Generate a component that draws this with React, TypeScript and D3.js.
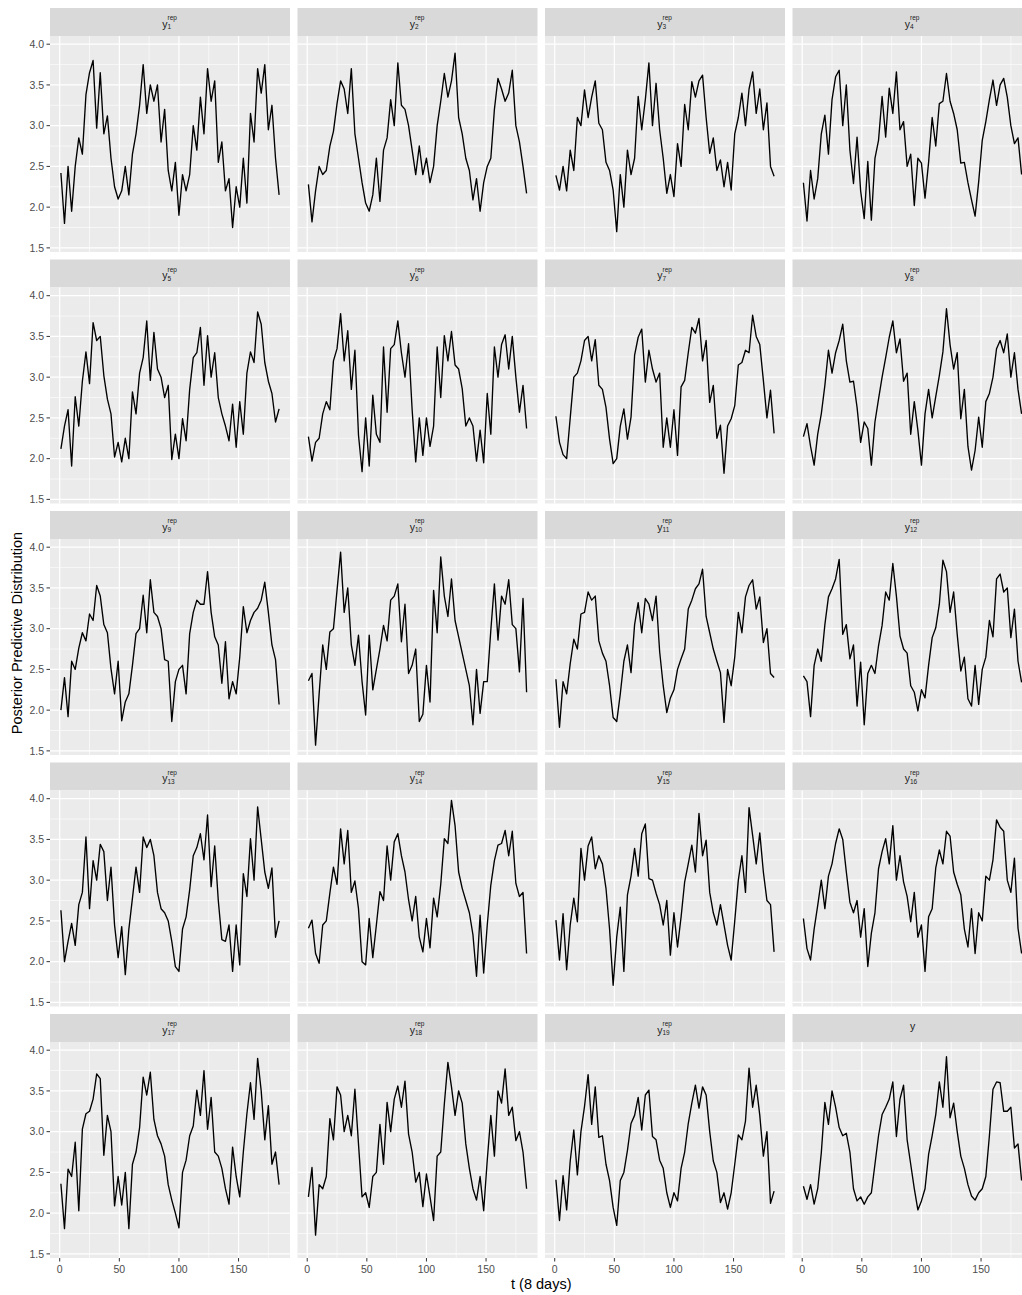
import React from 'react';
import * as d3 from 'd3';

const yrep1 = [2.42,1.8,2.5,1.95,2.5,2.85,2.65,3.38,3.65,3.8,2.97,3.65,2.9,3.12,2.6,2.25,2.1,2.2,2.5,2.15,2.65,2.9,3.25,3.75,3.15,3.5,3.3,3.5,2.8,3.2,2.45,2.2,2.55,1.9,2.4,2.2,2.4,3.0,2.7,3.35,2.9,3.7,3.3,3.55,2.55,2.8,2.2,2.35,1.75,2.25,2.0,2.6,2.05,3.15,2.8,3.7,3.4,3.75,2.95,3.25,2.6,2.15];
const yrep2 = [2.28,1.82,2.2,2.5,2.4,2.45,2.75,2.93,3.27,3.55,3.45,3.15,3.7,2.9,2.6,2.3,2.05,1.95,2.15,2.6,2.07,2.7,2.85,3.32,3.0,3.77,3.25,3.2,3.0,2.7,2.4,2.75,2.4,2.6,2.3,2.5,3.0,3.3,3.64,3.35,3.55,3.89,3.1,2.9,2.6,2.45,2.09,2.35,1.95,2.3,2.5,2.6,3.2,3.58,3.45,3.3,3.4,3.68,3.0,2.8,2.5,2.17];
const yrep3 = [2.39,2.21,2.5,2.2,2.7,2.45,3.1,3.0,3.44,3.1,3.35,3.55,3.03,2.95,2.55,2.45,2.21,1.7,2.4,2.0,2.7,2.4,2.6,3.36,2.95,3.32,3.77,3.0,3.52,2.95,2.6,2.17,2.4,2.13,2.78,2.5,3.26,2.95,3.54,3.35,3.55,3.62,3.1,2.66,2.85,2.45,2.58,2.25,2.55,2.21,2.9,3.1,3.4,3.0,3.45,3.66,3.15,3.45,2.95,3.28,2.5,2.38];
const yrep4 = [2.3,1.83,2.45,2.1,2.35,2.9,3.13,2.65,3.32,3.6,3.68,3.0,3.5,2.7,2.29,2.86,2.2,1.86,2.56,1.84,2.6,2.82,3.36,2.86,3.46,3.15,3.66,2.95,3.05,2.5,2.65,2.02,2.6,2.54,2.11,2.55,3.1,2.75,3.27,3.3,3.64,3.3,3.15,2.95,2.54,2.55,2.3,2.09,1.89,2.31,2.82,3.05,3.32,3.56,3.25,3.5,3.58,3.35,3.0,2.78,2.85,2.4];
const yrep5 = [2.12,2.4,2.6,1.91,2.76,2.4,2.95,3.31,2.92,3.67,3.45,3.5,3.02,2.73,2.55,2.02,2.2,1.96,2.25,2.0,2.82,2.55,3.05,3.24,3.69,2.96,3.55,3.1,3.0,2.75,2.9,1.99,2.3,2.0,2.49,2.22,2.85,3.24,3.3,3.61,2.9,3.51,3.0,3.3,2.75,2.55,2.4,2.22,2.67,2.14,2.7,2.3,3.05,3.31,3.18,3.8,3.65,3.18,2.95,2.8,2.45,2.61];
const yrep6 = [2.27,1.97,2.2,2.25,2.55,2.7,2.6,3.2,3.35,3.78,3.2,3.57,2.85,3.33,2.29,1.84,2.5,1.91,2.78,2.3,2.2,3.37,2.57,3.35,3.4,3.69,3.3,3.0,3.41,2.6,1.96,2.5,2.04,2.5,2.15,2.4,3.37,2.75,3.51,3.2,3.56,3.15,3.1,2.86,2.4,2.5,2.4,1.97,2.35,1.95,2.8,2.3,3.37,3.0,3.4,3.52,3.1,3.5,3.0,2.57,2.9,2.37];
const yrep7 = [2.52,2.2,2.05,2.0,2.5,3.0,3.05,3.2,3.45,3.5,3.2,3.46,2.9,2.85,2.63,2.24,1.94,2.0,2.4,2.61,2.24,2.51,3.27,3.49,3.59,2.94,3.33,3.1,2.94,3.05,2.14,2.5,2.14,2.6,2.04,2.88,2.96,3.3,3.61,3.54,3.72,3.2,3.45,2.69,2.9,2.25,2.41,1.82,2.4,2.49,2.65,3.15,3.18,3.33,3.3,3.76,3.5,3.4,2.96,2.5,2.84,2.31];
const yrep8 = [2.27,2.43,2.15,1.92,2.3,2.55,2.9,3.33,3.05,3.3,3.45,3.65,3.2,2.94,2.95,2.63,2.2,2.45,2.37,1.92,2.45,2.73,3.0,3.24,3.49,3.69,3.3,3.47,2.95,3.05,2.3,2.7,2.35,1.92,2.55,2.85,2.5,2.76,3.02,3.31,3.84,3.4,3.1,3.3,2.49,2.85,2.15,1.86,2.1,2.51,2.14,2.7,2.8,3.0,3.35,3.45,3.3,3.53,3.0,3.3,2.85,2.55];
const yrep9 = [2.0,2.4,1.92,2.6,2.5,2.76,2.95,2.85,3.18,3.1,3.53,3.4,3.05,2.95,2.51,2.2,2.6,1.87,2.1,2.2,2.55,2.94,3.0,3.41,2.95,3.6,3.2,3.15,3.0,2.62,2.6,1.86,2.35,2.5,2.55,2.2,2.94,3.2,3.35,3.3,3.3,3.7,3.2,2.9,2.8,2.33,2.84,2.14,2.35,2.2,2.65,3.27,2.95,3.1,3.2,3.25,3.35,3.57,3.2,2.8,2.62,2.07];
const yrep10 = [2.36,2.45,1.57,2.2,2.8,2.5,2.96,3.0,3.47,3.94,3.2,3.5,2.8,2.55,2.92,2.35,1.94,2.92,2.25,2.5,2.75,3.04,2.85,3.35,3.4,3.55,2.84,3.3,2.45,2.55,2.75,1.86,1.95,2.55,2.1,3.47,2.95,3.88,3.4,3.15,3.61,3.1,2.9,2.7,2.5,2.3,1.82,2.5,1.96,2.35,2.35,2.98,3.55,2.86,3.4,3.3,3.6,3.05,3.0,2.47,3.37,2.22];
const yrep11 = [2.38,1.79,2.35,2.2,2.57,2.87,2.75,3.18,3.2,3.45,3.35,3.4,2.85,2.7,2.6,2.3,1.91,1.86,2.2,2.6,2.8,2.46,3.05,3.32,2.95,3.37,3.3,3.1,3.4,2.72,2.3,1.97,2.15,2.25,2.5,2.63,2.75,3.24,3.35,3.49,3.55,3.73,3.15,2.95,2.75,2.6,2.46,1.85,2.5,2.3,2.65,3.2,2.95,3.39,3.53,3.6,3.24,3.39,2.83,3.0,2.45,2.4];
const yrep12 = [2.42,2.35,1.92,2.55,2.75,2.6,3.05,3.39,3.49,3.61,3.85,2.93,3.05,2.63,2.8,2.05,2.59,1.82,2.45,2.55,2.45,2.79,3.04,3.45,3.35,3.8,3.4,2.91,2.75,2.7,2.3,2.22,1.99,2.25,2.15,2.55,2.89,3.01,3.3,3.84,3.7,3.2,3.45,2.93,2.48,2.65,2.14,2.05,2.55,2.07,2.5,2.65,3.1,2.9,3.61,3.67,3.45,3.5,2.89,3.24,2.6,2.34];
const yrep13 = [2.63,2.0,2.25,2.47,2.2,2.7,2.85,3.53,2.65,3.24,3.0,3.44,3.35,2.75,3.16,2.45,2.05,2.43,1.84,2.4,2.78,3.16,2.85,3.53,3.4,3.5,3.3,2.85,2.65,2.6,2.5,2.25,1.94,1.88,2.4,2.55,2.88,3.3,3.4,3.57,3.25,3.8,2.92,3.42,2.75,2.27,2.25,2.45,1.88,2.45,1.96,3.08,2.8,3.51,3.0,3.9,3.5,3.1,2.9,3.15,2.3,2.5];
const yrep14 = [2.41,2.51,2.1,1.98,2.45,2.5,2.84,3.16,2.95,3.63,3.2,3.61,2.85,2.99,2.65,2.0,1.96,2.53,2.05,2.45,2.86,2.75,3.42,3.0,3.47,3.57,3.3,3.1,2.76,2.5,2.8,2.3,2.12,2.53,2.17,2.78,2.55,2.95,3.51,3.45,3.98,3.67,3.1,2.9,2.75,2.6,2.33,1.82,2.57,1.86,2.45,2.94,3.24,3.43,3.45,3.61,3.3,3.6,2.96,2.8,2.85,2.1];
const yrep15 = [2.51,2.02,2.59,1.9,2.45,2.78,2.49,3.39,3.0,3.42,3.53,3.14,3.3,3.2,2.9,2.4,1.71,2.3,2.67,1.88,2.82,3.05,3.39,3.05,3.57,3.69,3.02,3.0,2.84,2.7,2.45,2.75,2.08,2.6,2.18,2.55,2.98,3.2,3.43,3.1,3.82,3.3,3.49,2.85,2.6,2.45,2.7,2.45,2.2,2.02,2.5,3.0,3.3,2.85,3.89,3.55,3.2,3.58,3.1,2.75,2.7,2.12];
const yrep16 = [2.53,2.16,2.02,2.4,2.69,3.0,2.65,3.05,3.2,3.45,3.63,3.5,3.1,2.73,2.6,2.75,2.3,2.65,1.94,2.35,2.6,3.14,3.35,3.51,3.2,3.67,3.0,3.3,2.98,2.8,2.49,2.85,2.3,2.45,1.88,2.55,2.65,3.15,3.37,3.2,3.6,3.54,3.1,2.95,2.82,2.4,2.18,2.65,2.1,2.6,2.5,3.05,3.0,3.25,3.74,3.65,3.6,3.0,2.85,3.27,2.41,2.1];
const yrep17 = [2.36,1.81,2.54,2.45,2.87,2.03,3.03,3.22,3.25,3.4,3.71,3.65,2.71,3.2,3.0,2.09,2.45,2.1,2.5,1.81,2.6,2.75,3.05,3.67,3.45,3.73,3.15,2.95,2.85,2.7,2.35,2.16,2.0,1.82,2.5,2.65,2.95,3.07,3.51,3.2,3.75,3.03,3.42,2.75,2.7,2.55,2.3,2.11,2.81,2.45,2.2,2.75,3.22,3.6,3.15,3.9,3.5,2.9,3.32,2.6,2.75,2.35];
const yrep18 = [2.2,2.56,1.73,2.35,2.3,2.45,3.16,2.9,3.55,3.45,3.0,3.2,2.95,3.52,2.85,2.2,2.25,2.07,2.45,2.5,3.09,2.6,3.36,3.0,3.4,3.56,3.3,3.62,2.97,2.75,2.38,2.5,2.08,2.48,2.2,1.91,2.7,2.75,3.34,3.85,3.55,3.2,3.5,3.35,2.85,2.55,2.3,2.16,2.45,2.03,2.65,3.2,2.7,3.5,3.35,3.77,3.2,3.3,2.89,3.0,2.75,2.3];
const yrep19 = [2.41,1.91,2.46,2.04,2.64,3.02,2.47,3.0,3.31,3.7,3.09,3.55,2.93,2.95,2.6,2.4,2.07,1.85,2.4,2.5,2.77,3.1,3.2,3.42,3.02,3.45,3.51,2.94,2.9,2.65,2.55,2.25,2.07,2.25,2.15,2.55,2.75,3.1,3.35,3.57,3.29,3.55,3.45,3.0,2.64,2.5,2.13,2.25,2.05,2.25,2.6,2.96,2.9,3.13,3.78,3.3,3.57,3.2,2.7,3.0,2.12,2.27];
// observed series
const yObs = [2.33,2.17,2.35,2.11,2.3,2.74,3.36,3.09,3.5,3.3,3.05,2.95,2.98,2.75,2.3,2.15,2.2,2.11,2.2,2.25,2.6,2.95,3.21,3.3,3.4,3.61,2.94,3.4,3.57,2.9,2.6,2.3,2.04,2.15,2.3,2.72,2.95,3.21,3.61,3.3,3.92,3.17,3.35,3.0,2.7,2.55,2.35,2.21,2.16,2.25,2.3,2.45,2.95,3.52,3.61,3.6,3.25,3.25,3.3,2.8,2.85,2.4];

const panelSeries = [yrep1, yrep2, yrep3, yrep4, yrep5, yrep6, yrep7, yrep8, yrep9, yrep10,
  yrep11, yrep12, yrep13, yrep14, yrep15, yrep16, yrep17, yrep18, yrep19, yObs];
const panelIndex = ['1','2','3','4','5','6','7','8','9','10','11','12','13','14','15','16','17','18','19', ''];
const tFirst = 1;
const tLast = 184;
const xTicks = [0, 50, 100, 150];
const xMinor = [25, 75, 125, 175];
const yTicks = [1.5, 2.0, 2.5, 3.0, 3.5, 4.0];
const yMinor = [1.75, 2.25, 2.75, 3.25, 3.75];
const xTitle = 't (8 days)';
const yTitle = 'Posterior Predictive Distribution';

const W = 1022;
const H = 1295;
const nCol = 4;
const plotLeft = 50;
const plotTop = 8;
const colW = 240;
const gap = 7.5;
const stripH = 28;
const panelH = 216;
const rowPitch = stripH + panelH + gap;
const font = '"Liberation Sans", Arial, Helvetica, sans-serif';

const xSpan = tLast - tFirst;
const x = d3.scaleLinear().domain([tFirst - 0.05 * xSpan, tLast + 0.05 * xSpan]).range([0, colW]);
const allVals = panelSeries.flat();
const [vMin, vMax] = d3.extent(allVals) as [number, number];
const ySpan = vMax - vMin;
const y = d3.scaleLinear().domain([vMin - 0.05 * ySpan, vMax + 0.05 * ySpan]).range([panelH, 0]);

const lineGen = d3.line<number>()
  .x((v, i, arr) => x(tFirst + (i * xSpan) / (arr.length - 1)))
  .y((v) => y(v));

const fmt = d3.format('.1f');

const Panel = ({ vals, idx, k }: { vals: number[]; idx: string; k: number }) => {
  const col = k % nCol;
  const row = Math.floor(k / nCol);
  const px = plotLeft + col * (colW + gap);
  const py = plotTop + row * rowPitch;
  const cx = colW / 2;
  const lastRow = row === Math.ceil(panelSeries.length / nCol) - 1;
  return (
    <g transform={`translate(${px},${py})`}>
      <rect width={colW} height={stripH} fill="#D9D9D9" />
      {idx ? (
        <g fill="#1A1A1A" fontFamily={font}>
          <text x={cx - 2.5} y={19.5} fontSize={10.5} textAnchor="end">y</text>
          <text x={cx - 2.5} y={12} fontSize={6.5}>rep</text>
          <text x={cx - 2.5} y={21} fontSize={6.5}>{idx}</text>
        </g>
      ) : (
        <text x={cx} y={16} fontSize={10.5} textAnchor="middle" fill="#1A1A1A" fontFamily={font}>y</text>
      )}
      <g transform={`translate(0,${stripH})`}>
        <rect width={colW} height={panelH} fill="#EBEBEB" />
        {yMinor.map((t) => (
          <line key={'ym' + t} x1={0} x2={colW} y1={y(t)} y2={y(t)} stroke="#fff" strokeWidth={0.6} />
        ))}
        {xMinor.map((t) => (
          <line key={'xm' + t} x1={x(t)} x2={x(t)} y1={0} y2={panelH} stroke="#fff" strokeWidth={0.6} />
        ))}
        {yTicks.map((t) => (
          <line key={'y' + t} x1={0} x2={colW} y1={y(t)} y2={y(t)} stroke="#fff" strokeWidth={1.2} />
        ))}
        {xTicks.map((t) => (
          <line key={'x' + t} x1={x(t)} x2={x(t)} y1={0} y2={panelH} stroke="#fff" strokeWidth={1.2} />
        ))}
        <path d={lineGen(vals) || ''} fill="none" stroke="#000" strokeWidth={1.35} strokeLinejoin="round" />
        {col === 0 &&
          yTicks.map((t) => (
            <g key={'yl' + t} transform={`translate(0,${y(t)})`}>
              <line x1={-3.5} x2={0} stroke="#333" strokeWidth={1} />
              <text x={-6} dy="0.35em" textAnchor="end" fontSize={10.5} fill="#4D4D4D" fontFamily={font}>
                {fmt(t)}
              </text>
            </g>
          ))}
        {lastRow &&
          xTicks.map((t) => (
            <g key={'xl' + t} transform={`translate(${x(t)},${panelH})`}>
              <line y1={0} y2={3.5} stroke="#333" strokeWidth={1} />
              <text y={15} textAnchor="middle" fontSize={10.5} fill="#4D4D4D" fontFamily={font}>
                {t}
              </text>
            </g>
          ))}
      </g>
    </g>
  );
};

export default function App() {
  const nRow = Math.ceil(panelSeries.length / nCol);
  const gridMidY = plotTop + (nRow * rowPitch - gap) / 2;
  const gridMidX = plotLeft + (nCol * colW + (nCol - 1) * gap) / 2;
  return (
    <svg
      width={W}
      height={H}
      style={{ position: 'absolute', left: 0, top: 0, background: '#fff', display: 'block' }}
    >
      <rect width={W} height={H} fill="#fff" />
      {panelSeries.map((vals, k) => (
        <Panel key={k} vals={vals} idx={panelIndex[k]} k={k} />
      ))}
      <text
        transform={`translate(22,${gridMidY}) rotate(-90)`}
        textAnchor="middle"
        fontSize={14.5}
        fill="#000"
        fontFamily={font}
      >
        {yTitle}
      </text>
      <text x={gridMidX} y={1289} textAnchor="middle" fontSize={14.5} fill="#000" fontFamily={font}>
        {xTitle}
      </text>
    </svg>
  );
}
